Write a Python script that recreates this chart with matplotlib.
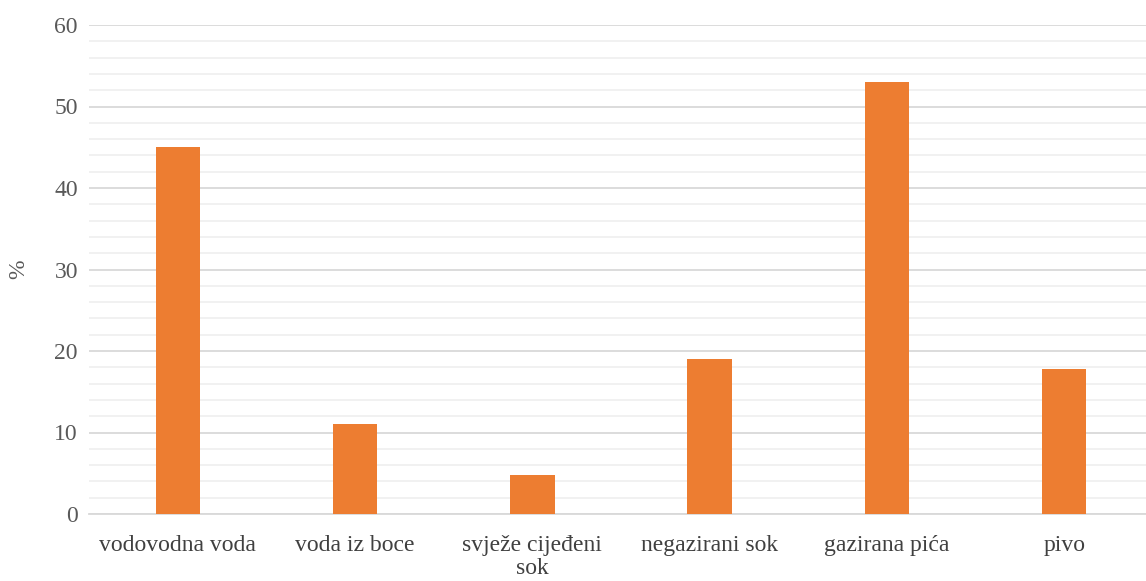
import matplotlib.pyplot as plt
from matplotlib.ticker import MultipleLocator

categories = ['vodovodna voda', 'voda iz boce', 'svježe cijeđeni\nsok',
              'negazirani sok', 'gazirana pića', 'pivo']
values = [45, 11, 4.8, 19, 53, 17.8]

plt.rcParams['font.family'] = ['Liberation Serif', 'DejaVu Serif']

fig = plt.figure(figsize=(11.46, 5.81), dpi=100)
# plot area runs a little past the right edge of the figure, as in the reference
ax = fig.add_axes([89/1146, 1 - 514/581, (1153 - 89)/1146, (514 - 25)/581])

x = range(len(categories))
ax.bar(x, values, width=0.25, color='#ED7D31', zorder=3)

ax.set_xlim(-0.5, len(categories) - 0.5)
ax.set_ylim(0, 60)
ax.yaxis.set_major_locator(MultipleLocator(10))
ax.yaxis.set_minor_locator(MultipleLocator(2))
ax.grid(axis='y', which='major', color='#d9d9d9', lw=1.3, zorder=0)
ax.grid(axis='y', which='minor', color='#f0f0f0', lw=1.3, zorder=0)

for s in ['top', 'right', 'left']:
    ax.spines[s].set_visible(False)
ax.spines['bottom'].set_color('#d9d9d9')
ax.spines['bottom'].set_linewidth(1.3)

ax.set_xticks(list(x))
ax.set_xticklabels(categories, fontsize=17, color='#404040', linespacing=1.15)
ax.tick_params(axis='x', length=0, pad=15)
ax.tick_params(axis='y', which='both', length=0, labelsize=17, labelcolor='#595959', pad=8)
ax.set_ylabel('%', fontsize=17, color='#595959', labelpad=18)

fig.savefig('out.png', dpi=100)
